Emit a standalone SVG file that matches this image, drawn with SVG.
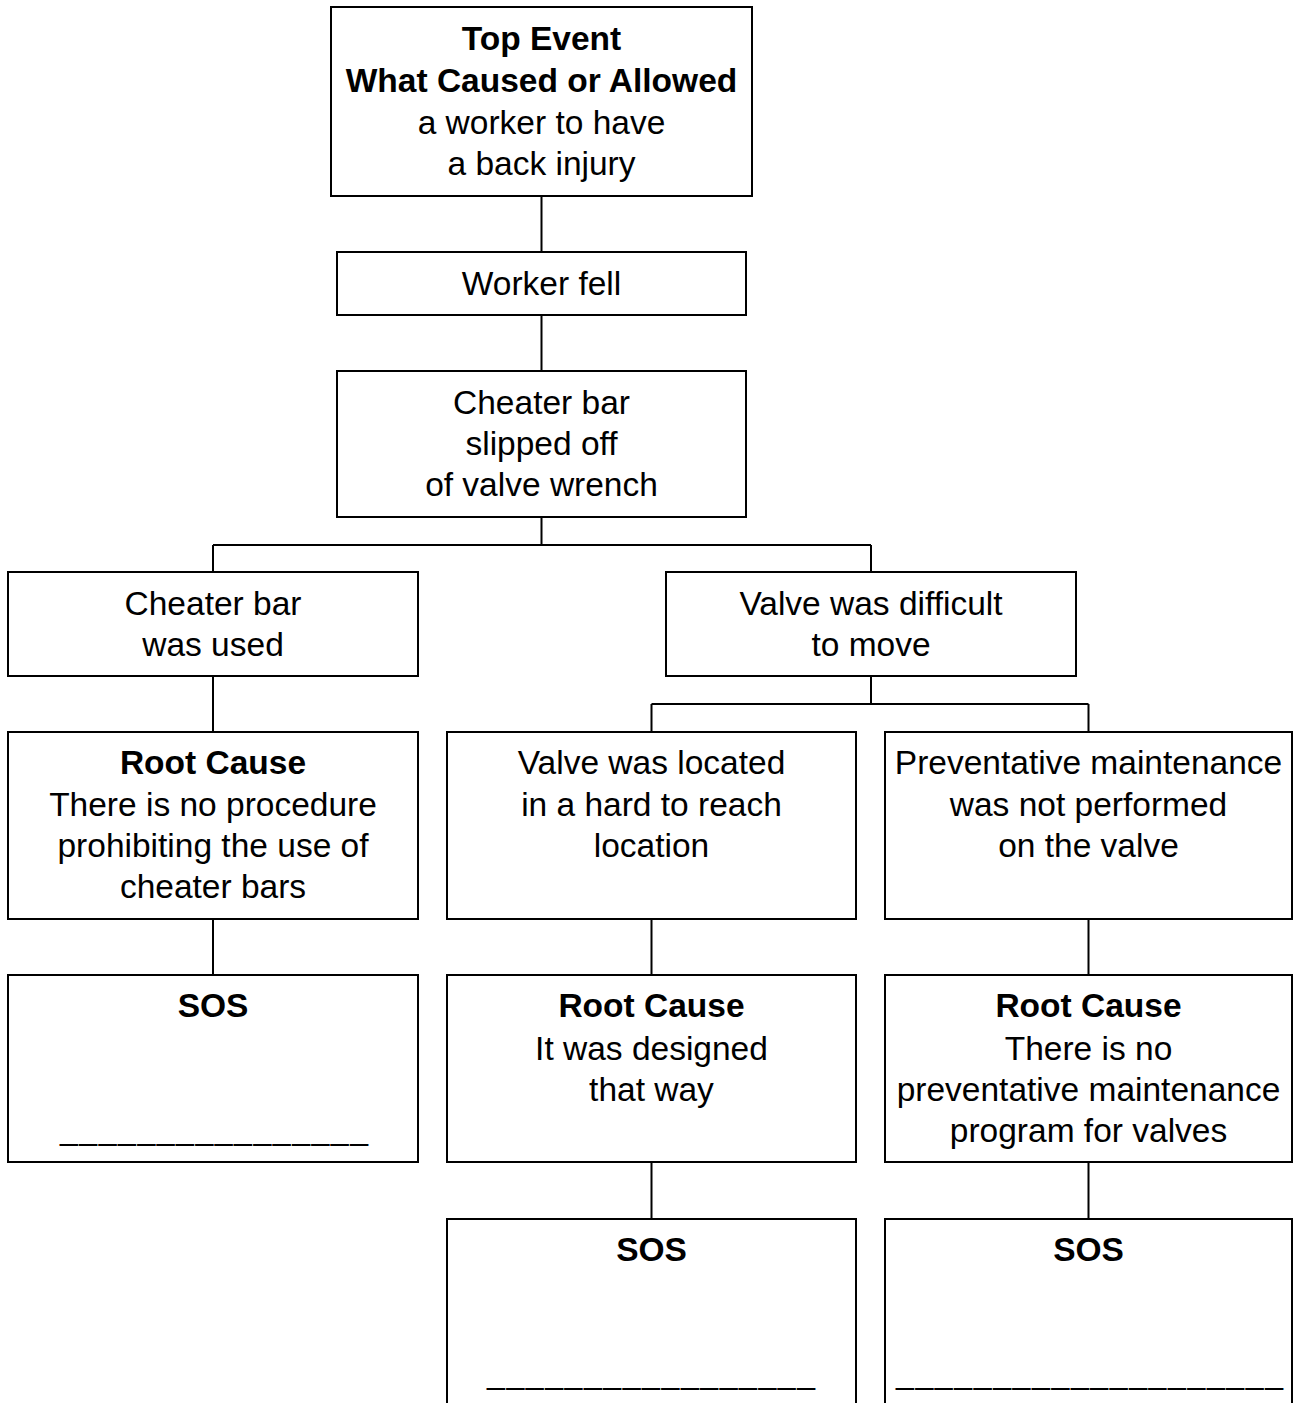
<svg xmlns="http://www.w3.org/2000/svg" width="1294" height="1403" viewBox="0 0 1294 1403">
<style>
.box{fill:#fff;stroke:#000;stroke-width:2}
.ln{fill:none;stroke:#000;stroke-width:2}
text{font-family:"Liberation Sans",Arial,sans-serif;font-size:33.5px;fill:#000;text-anchor:middle}
.b{font-weight:bold}
.u{font-size:32px}
</style>
<rect width="1294" height="1403" fill="#fff"/>
<g id="connectors">
<path class="ln" d="M541.5 196V252M541.5 315V371M541.5 517V545M213 545H871M213 545V572M871 545V572M213 676V732M871 676V704M651.5 704H1088.5M651.5 704V732M1088.5 704V732M213 919V975M651.5 919V975M1088.5 919V975M651.5 1162V1219M1088.5 1162V1219"/>
</g>
<g id="top-event">
<rect class="box" x="331" y="7" width="421" height="189"/>
<text class="b" x="541.5" y="50">Top Event</text>
<text class="b" x="541.5" y="92">What Caused or Allowed</text>
<text x="541.5" y="134">a worker to have</text>
<text x="541.5" y="175">a back injury</text>
</g>
<g id="worker-fell">
<rect class="box" x="337" y="252" width="409" height="63"/>
<text x="541.5" y="295">Worker fell</text>
</g>
<g id="cheater-slipped">
<rect class="box" x="337" y="371" width="409" height="146"/>
<text x="541.5" y="414">Cheater bar</text>
<text x="541.5" y="455">slipped off</text>
<text x="541.5" y="496">of valve wrench</text>
</g>
<g id="cheater-used">
<rect class="box" x="8" y="572" width="410" height="104"/>
<text x="213" y="615">Cheater bar</text>
<text x="213" y="656">was used</text>
</g>
<g id="valve-difficult">
<rect class="box" x="666" y="572" width="410" height="104"/>
<text x="871" y="615">Valve was difficult</text>
<text x="871" y="656">to move</text>
</g>
<g id="root-cause-procedure">
<rect class="box" x="8" y="732" width="410" height="187"/>
<text class="b" x="213" y="774">Root Cause</text>
<text x="213" y="816">There is no procedure</text>
<text x="213" y="857">prohibiting the use of</text>
<text x="213" y="898">cheater bars</text>
</g>
<g id="valve-located">
<rect class="box" x="447" y="732" width="409" height="187"/>
<text x="651.5" y="774">Valve was located</text>
<text x="651.5" y="816">in a hard to reach</text>
<text x="651.5" y="857">location</text>
</g>
<g id="pm-not-performed">
<rect class="box" x="885" y="732" width="407" height="187"/>
<text x="1088.5" y="774">Preventative maintenance</text>
<text x="1088.5" y="816">was not performed</text>
<text x="1088.5" y="857">on the valve</text>
</g>
<g id="sos-left">
<rect class="box" x="8" y="975" width="410" height="187"/>
<text class="b" x="213" y="1017">SOS</text>
<text class="u" x="214" y="1140" textLength="308" lengthAdjust="spacing">________________</text>
</g>
<g id="root-cause-design">
<rect class="box" x="447" y="975" width="409" height="187"/>
<text class="b" x="651.5" y="1017">Root Cause</text>
<text x="651.5" y="1060">It was designed</text>
<text x="651.5" y="1101">that way</text>
</g>
<g id="root-cause-pm">
<rect class="box" x="885" y="975" width="407" height="187"/>
<text class="b" x="1088.5" y="1017">Root Cause</text>
<text x="1088.5" y="1060">There is no</text>
<text x="1088.5" y="1101">preventative maintenance</text>
<text x="1088.5" y="1142">program for valves</text>
</g>
<g id="sos-middle">
<rect class="box" x="447" y="1219" width="409" height="220"/>
<text class="b" x="651.5" y="1261">SOS</text>
<text class="u" x="651" y="1384" textLength="328" lengthAdjust="spacing">_________________</text>
</g>
<g id="sos-right">
<rect class="box" x="885" y="1219" width="407" height="220"/>
<text class="b" x="1088.5" y="1261">SOS</text>
<text class="u" x="1089.5" y="1384" textLength="387" lengthAdjust="spacing">____________________</text>
</g>
</svg>
